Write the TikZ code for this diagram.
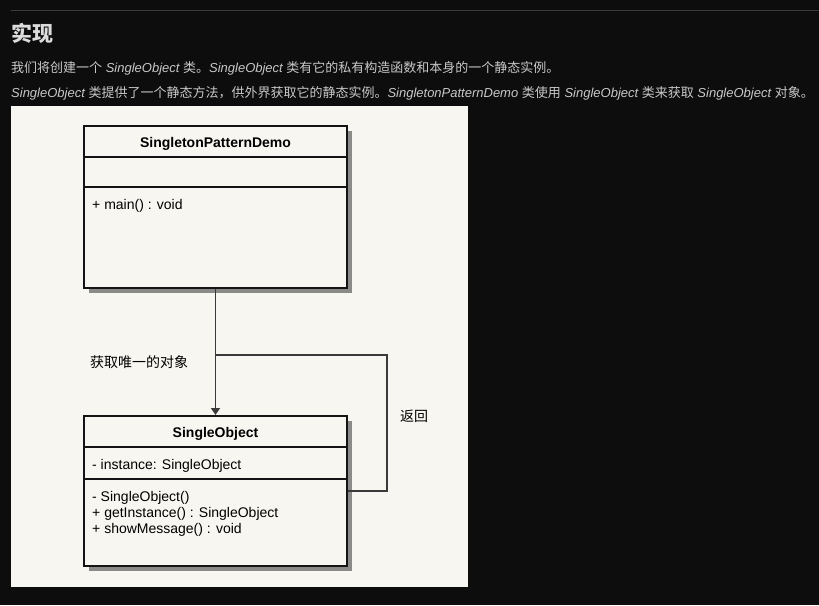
\documentclass[tikz,border=0pt]{standalone}
\usepackage{fontspec}
\setmainfont{Liberation Sans}
\newfontfamily\cjk{Noto Sans CJK SC}
\usepackage{tikz}
\usetikzlibrary{arrows.meta,positioning,shadows}
\definecolor{page}{HTML}{0D0D0D}
\definecolor{paper}{HTML}{F8F6F0}
\definecolor{pagetext}{HTML}{C8C8C8}
\definecolor{pagehead}{HTML}{DCDCDC}
\definecolor{shade}{HTML}{8A8A88}
\definecolor{rulegray}{HTML}{3A3A3A}
\definecolor{wire}{HTML}{3A3A3A}
\newcommand{\sobj}{{\itshape SingleObject}}

\begin{document}
\begin{tikzpicture}[x=1pt,y=-1pt]
\tikzstyle{classbox}=[draw=black!92,line width=2pt,fill=paper,minimum width=263pt,inner sep=0pt,drop shadow={shadow xshift=5pt,shadow yshift=-5pt,fill=shade,opacity=1}]
\tikzstyle{classname}=[font=\fontsize{14}{16}\selectfont\bfseries,inner sep=0pt,anchor=base]
\tikzstyle{member}=[font=\fontsize{14}{16}\selectfont,inner sep=0pt,anchor=base west]
\tikzstyle{divider}=[black!92,line width=2pt]
\tikzstyle{pageline}=[text=pagetext,font=\fontsize{13}{15}\selectfont,inner sep=0pt,anchor=base west]
\tikzstyle{wirelabel}=[font=\cjk\fontsize{14}{16}\selectfont,inner sep=0pt,anchor=base west]

\useasboundingbox (0,0) rectangle (819,605);
\fill[page] (0,0) rectangle (819,605);
\draw[rulegray,line width=1pt] (11,10) -- (819,10);

\node [text=pagehead,font=\cjk\fontsize{21}{24}\selectfont\bfseries,inner sep=0pt,anchor=base west] (heading) at (11,41) {实现};
\node [pageline] (intro) at (11,72) {{\cjk 我们将创建一个} \sobj{} {\cjk 类。}\sobj{} {\cjk 类有它的私有构造函数和本身的一个静态实例。}};
\node [pageline] (usage) at (11,97) {\sobj{} {\cjk 类提供了一个静态方法，供外界获取它的静态实例。}{\itshape SingletonPatternDemo} {\cjk 类使用} \sobj{} {\cjk 类来获取} \sobj{} {\cjk 对象。}};

\fill[paper] (11,106) rectangle (468,587);

% SingletonPatternDemo
\node [classbox,minimum height=162pt] (demo) at (215.5,207) {};
\draw[divider] ([yshift=-32pt]demo.north west) -- ([yshift=-32pt]demo.north east);
\draw[divider] ([yshift=-62pt]demo.north west) -- ([yshift=-62pt]demo.north east);
\node [classname] (demoname) at (215.5,147) {SingletonPatternDemo};
\node [member] (demomain) at (92,209) {+ main() : void};

% SingleObject
\node [classbox,minimum height=150pt] (single) at (215.5,491) {};
\draw[divider] ([yshift=-32pt]single.north west) -- ([yshift=-32pt]single.north east);
\draw[divider] ([yshift=-64pt]single.north west) -- ([yshift=-64pt]single.north east);
\node [classname] (singlename) at (215.5,437) {SingleObject};
\node [member] (singleinst) at (92,469) {- instance: SingleObject};
\node [member] (singlector) at (92,501) {- SingleObject()};
\node [member] (singleget) at (92,517) {+ getInstance() : SingleObject};
\node [member] (singleshow) at (92,533) {+ showMessage() : void};

\coordinate (turn) at (387,355);
\draw[wire,line width=1.6pt,-{Triangle[width=9pt,length=7pt]}] (demo) -- (single);
\draw[wire,line width=1.2pt] (single.east) -| (turn) -- (turn -| demo);

\node [wirelabel] (getlabel) at (90,367) {获取唯一的对象};
\node [wirelabel] (retlabel) at (400,421) {返回};
\end{tikzpicture}
\end{document}
